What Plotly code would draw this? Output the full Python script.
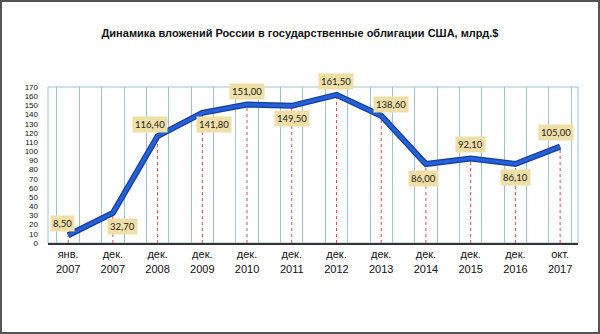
import plotly.graph_objects as go

# Russia's holdings of US Treasury securities, bn USD
periods = ["янв.<br>2007", "дек.<br>2007", "дек.<br>2008", "дек.<br>2009", "дек.<br>2010",
           "дек.<br>2011", "дек.<br>2012", "дек.<br>2013", "дек.<br>2014", "дек.<br>2015",
           "дек.<br>2016", "окт.<br>2017"]
holdings = [8.50, 32.70, 116.40, 141.80, 151.00, 149.50, 161.50, 138.60, 86.00, 92.10, 86.10, 105.00]
y_ticks = list(range(0, 171, 10))

# where each value label sits relative to its point: (xshift, yshift)
label_offsets = [(-6, 12), (10, -14), (-8, 12), (12, -12), (0, 13), (0, -13),
                 (0, 13), (10, 11), (-2, -14), (0, 14), (0, -14), (-4, 14)]

idx = list(range(len(holdings)))

fig = go.Figure()

# red dashed drop lines from each point to the floor
drop_x, drop_y = [], []
for i, v in zip(idx, holdings):
    drop_x += [i, i, None]
    drop_y += [0, v, None]
fig.add_trace(go.Scatter(x=drop_x, y=drop_y, mode="lines",
                         line=dict(color="#e0484f", width=1, dash="3px,3px"),
                         hoverinfo="skip", showlegend=False))

# ribbon-like line: dark edge underneath, brighter face on top
fig.add_trace(go.Scatter(x=idx, y=holdings, mode="lines",
                         line=dict(color="#133d9e", width=6),
                         hoverinfo="skip", showlegend=False))
fig.add_trace(go.Scatter(x=idx, y=holdings, mode="lines",
                         line=dict(color="#2460d6", width=3.5),
                         showlegend=False))

for i, v, (dx, dy) in zip(idx, holdings, label_offsets):
    fig.add_annotation(x=i, y=v, text=f"{v:.2f}".replace(".", ","),
                       showarrow=False, xshift=dx, yshift=dy,
                       bgcolor="#efdfa6", borderpad=2,
                       font=dict(family="Lato, Open Sans, sans-serif", size=9.5, color="#222"))

# back wall outline
fig.add_shape(type="rect", xref="paper", yref="paper", x0=0, x1=1, y0=0, y1=1,
              line=dict(color="#9cc4d6", width=1), layer="below")

L, R, T, B = 48, 22, 87, 91
W, H = 600, 334
pw, ph = W - L - R, H - T - B
# outer frame around the whole figure
fig.add_shape(type="rect", xref="paper", yref="paper",
              x0=-(L - 1) / pw, x1=1 + (R - 1) / pw, y0=-(B - 1) / ph, y1=1 + (T - 1) / ph,
              line=dict(color="#555", width=2), layer="below")

fig.update_layout(
    width=W, height=H,
    margin=dict(l=L, r=R, t=T, b=B),
    paper_bgcolor="white", plot_bgcolor="white",
    title=dict(text="<b>Динамика вложений России в государственные облигации США, млрд.$</b>",
               x=0.5, xanchor="center", y=1 - 33 / H, yanchor="middle",
               font=dict(family="Arial, Liberation Sans, sans-serif", size=11, color="#111")),
    xaxis=dict(range=[-0.45, 11.4], tickvals=idx, ticktext=periods,
               showgrid=False, zeroline=False,
               showline=True, linecolor="#333", linewidth=2,
               ticks="", ticklen=0,
               tickfont=dict(family="Arial, Liberation Sans, sans-serif", size=11, color="#111"),
               minor=dict(tickvals=[i + d for i in idx for d in (-0.25, 0.25)],
                          showgrid=True, gridcolor="#9cc4d6", gridwidth=1)),
    yaxis=dict(range=[0, 170], tickvals=y_ticks, showgrid=False, zeroline=False,
               showline=False, ticks="", ticklabelstandoff=9,
               tickfont=dict(family="Arial, Liberation Sans, sans-serif", size=8, color="#111")),
)

fig.write_html("out.html")
